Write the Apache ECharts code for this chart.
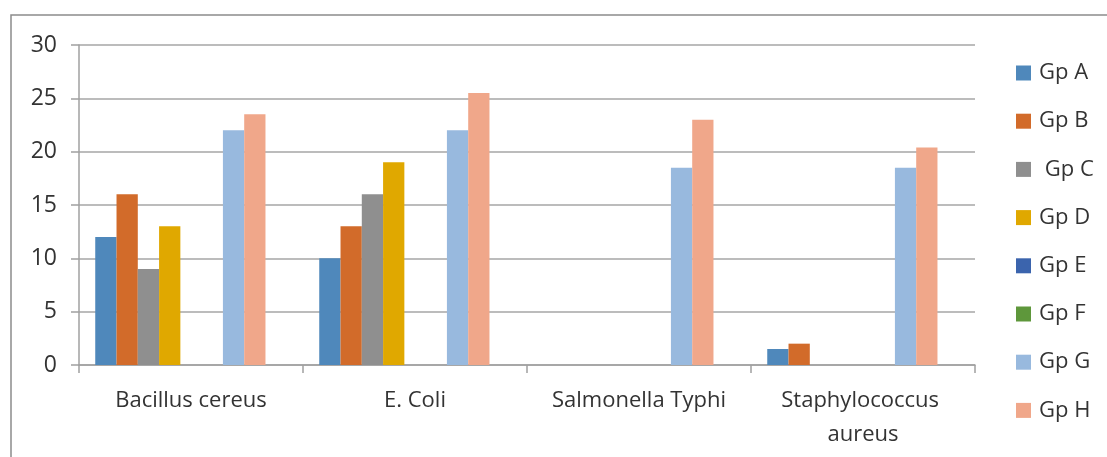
<!DOCTYPE html>
<html>
<head>
<meta charset="utf-8">
<script src="https://cdn.jsdelivr.net/npm/echarts@6/dist/echarts.min.js"></script>
<style>
html,body{margin:0;padding:0;background:#fff;}
#chart{width:1107px;height:457px;}
</style>
</head>
<body>
<div id="chart"></div>
<script>
const categories = ['Bacillus cereus', 'E. Coli', 'Salmonella Typhi', 'Staphylococcus aureus'];
const gpA = [12, 10, 0, 1.5];
const gpB = [16, 13, 0, 2];
const gpC = [9, 16, 0, 0];
const gpD = [13, 19, 0, 0];
const gpE = [0, 0, 0, 0];
const gpF = [0, 0, 0, 0];
const gpG = [22, 22, 18.5, 18.5];
const gpH = [23.5, 25.5, 23, 20.4];
const blankSeries = [null, null, null, null];
const seriesNames = ['Gp A', 'Gp B', ' Gp C', 'Gp D', 'Gp E', 'Gp F', 'Gp G', 'Gp H'];
const seriesData = [gpA, gpB, gpC, gpD, gpE, gpF, gpG, gpH];
const colors = ['#4f88bb', '#d26b2a', '#8f8f8f', '#e0a800', '#3b64ad', '#5e973b', '#98b9de', '#f0a78a'];
const yTicks = { min: 0, max: 30, interval: 5 };

const FONT = '"Open Sans", "Liberation Sans", sans-serif';
const chart = echarts.init(document.getElementById('chart'), null, { renderer: 'canvas' });

const series = seriesNames.map((n, i) => ({
  name: n,
  type: 'bar',
  data: seriesData[i],
  itemStyle: { color: colors[i] },
  barGap: '0%',
  barCategoryGap: '14.5%',
  animation: false
}));
series.push({
  name: '_blank',
  type: 'bar',
  data: blankSeries,
  barGap: '0%',
  barCategoryGap: '14.5%',
  animation: false
});

chart.setOption({
  animation: false,
  backgroundColor: '#ffffff',
  color: colors,
  graphic: [{
    type: 'rect',
    shape: { x: 11, y: 15, width: 1200, height: 600 },
    style: { fill: 'none', stroke: '#8c8c8c', lineWidth: 1.5 },
    silent: true
  }],
  grid: { left: 79, right: 132, top: 45, bottom: 92, containLabel: false },
  legend: {
    data: seriesNames,
    orient: 'vertical',
    left: 1011,
    top: 57,
    itemWidth: 15,
    itemHeight: 15,
    itemGap: 26.2,
    icon: 'rect',
    textStyle: { fontFamily: FONT, fontSize: 22, color: '#333', lineHeight: 22, padding: [0, 0, 0, 3] }
  },
  xAxis: {
    type: 'category',
    data: categories,
    axisLine: { show: true, lineStyle: { color: '#a0a0a0', width: 1.5 } },
    axisTick: { show: true, length: 8, lineStyle: { color: '#a0a0a0', width: 1.5 } },
    axisLabel: {
      interval: 0,
      margin: 19,
      fontFamily: FONT,
      fontSize: 22,
      color: '#333',
      lineHeight: 34,
      width: 215,
      overflow: 'break'
    },
    splitLine: { show: false }
  },
  yAxis: {
    type: 'value',
    min: yTicks.min,
    max: yTicks.max,
    interval: yTicks.interval,
    axisLine: { show: true, lineStyle: { color: '#a0a0a0', width: 1.5 } },
    axisTick: { show: true, length: 8, lineStyle: { color: '#a0a0a0', width: 1.5 } },
    axisLabel: { margin: 22, fontFamily: FONT, fontSize: 23, color: '#333' },
    splitLine: { show: true, lineStyle: { color: '#a6a6a6', width: 1.5 } }
  },
  series: series
});
</script>
</body>
</html>
